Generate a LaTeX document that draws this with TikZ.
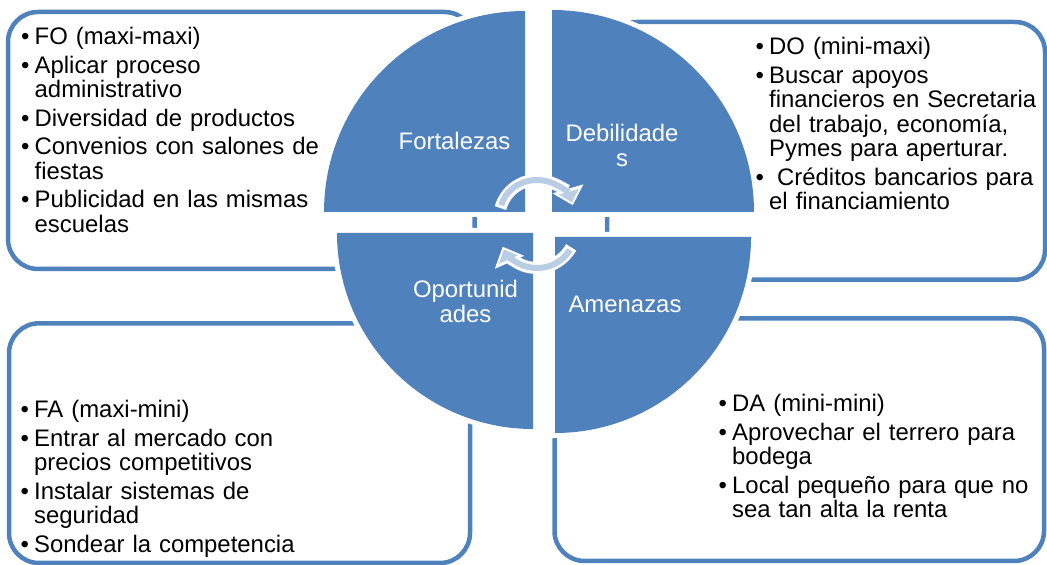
\documentclass[tikz,border=0pt]{standalone}
\usepackage{fontspec}
\setmainfont{Liberation Sans}
\usepackage{tikz}
\usetikzlibrary{arrows.meta}
\definecolor{quadblue}{RGB}{79,129,189}
\definecolor{cycblue}{RGB}{185,205,229}
\newcommand{\itm}[1]{\hangindent=13.5pt\hangafter=1\makebox[13.5pt][l]{\textbullet}#1\par}

\begin{document}
\begin{tikzpicture}[x=1pt,y=1pt,
  box/.style={draw=quadblue,line width=4.5pt,rounded corners=30pt},
  quad/.style={fill=quadblue,preaction={draw=white,line width=10pt}},
  list/.style={anchor=base west,inner sep=0pt,text width=320pt,align=left,font=\fontsize{23.9}{24.5}\selectfont,execute at begin node={\setlength{\parskip}{4pt}}},
  lab/.style={anchor=base,inner sep=0pt,text width=130pt,align=center,text=white,font=\fontsize{23.9}{25}\selectfont},
  cycback/.style={draw=white,line width=12pt,shorten <=-3pt,-{Triangle[length=17pt,width=31pt]}},
  cyc/.style={draw=cycblue,line width=6pt,shorten >=3pt,-{Triangle[length=11pt,width=20pt]}}]

\useasboundingbox (0,0) rectangle (1047,565);

\draw[box] (8,296) rectangle (474.5,553);
\draw[box] (607,285.3) rectangle (1045,543);
\draw[box] (9,2) rectangle (470,241.7);
\draw[box] (554.5,4) rectangle (1044,246.5);

\path[quad] (525,353) -- ++(0,201) arc[start angle=90,end angle=180,radius=201] -- cycle;
\path[quad] (552,353) -- ++(202,0) arc[start angle=0,end angle=90,radius=202] -- cycle;
\path[quad] (533,332) -- ++(-196,0) arc[start angle=180,end angle=270,radius=196] -- cycle;
\path[quad] (555,328) -- ++(0,-196) arc[start angle=270,end angle=360,radius=196] -- cycle;

\coordinate (ct) at (537,351);
\coordinate (cb) at (537,331);
\draw[cycback] ([shift={(165:37 and 34)}]ct) arc[start angle=165,end angle=15,x radius=37,y radius=34];
\draw[cyc] ([shift={(165:37 and 34)}]ct) arc[start angle=165,end angle=15,x radius=37,y radius=34];
\draw[cycback] ([shift={(-28:37 and 34)}]cb) arc[start angle=-28,end angle=-158,x radius=37,y radius=34];
\draw[cyc] ([shift={(-28:37 and 34)}]cb) arc[start angle=-28,end angle=-158,x radius=37,y radius=34];

\node[lab] (fort) at (454.5,415) {Fortalezas};
\node[lab] (debi) at (622,423) {Debilidade\\s};
\node[lab] (opor) at (465.5,267) {Oportunid\\ades};
\node[lab] (amen) at (625,252) {Amenazas};

\node[list] (fo) at (21,520) {\itm{FO (maxi-maxi)}\itm{Aplicar proceso\newline administrativo}\itm{Diversidad de productos}\itm{Convenios con salones de\newline fiestas}\itm{Publicidad en las mismas\newline escuelas}};
\node[list] (do) at (755.5,510) {\itm{DO (mini-maxi)}\itm{Buscar apoyos\newline financieros en Secretaria\newline del trabajo, economía,\newline Pymes para aperturar.}\itm{\ Créditos bancarios para\newline el financiamiento}};
\node[list] (fa) at (20.5,147) {\itm{FA (maxi-mini)}\itm{Entrar al mercado con\newline precios competitivos}\itm{Instalar sistemas de\newline seguridad}\itm{Sondear la competencia}};
\node[list] (da) at (718.5,153.3) {\itm{DA (mini-mini)}\itm{Aprovechar el terrero para\newline bodega}\itm{Local pequeño para que no\newline sea tan alta la renta}};

\end{tikzpicture}
\end{document}
